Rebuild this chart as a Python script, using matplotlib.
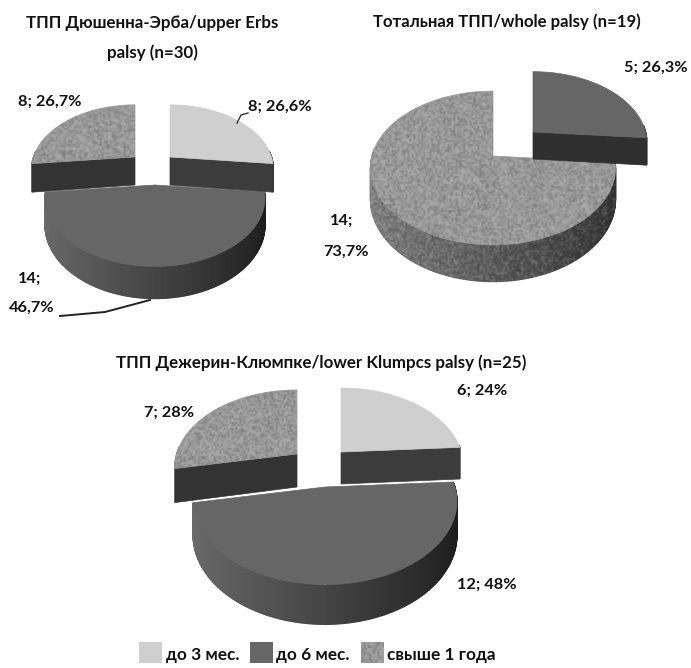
import numpy as np
import matplotlib
matplotlib.use("Agg")
import matplotlib.pyplot as plt
from matplotlib.patches import Polygon, Rectangle

# Cases per recovery period
upper_values = [8, 14, 8]
whole_values = [0, 5, 14]
lower_values = [6, 12, 7]

periods = ["до 3 мес.", "до 6 мес.", "свыше 1 года"]
upper_title = ["ТПП Дюшенна-Эрба/upper Erbs", "palsy (n=30)"]
whole_title = ["Тотальная ТПП/whole palsy (n=19)"]
lower_title = ["ТПП Дежерин-Клюмпке/lower Klumpcs palsy (n=25)"]

FONT = ["Lato", "Open Sans", "DejaVu Sans"]
INK = "#111111"
TOP = ["#cfcfcf", "#666666", "#9a9a9a"]
EDGE_DARK = ["#3c3c3c", "#2f2f2f", "#333333"]
SIDE_L = [0.40, 0.42, 0.52]   # rim brightness at the left
SIDE_R = [0.16, 0.11, 0.18]   # rim brightness at the right

fig = plt.figure(figsize=(6.91, 6.68), dpi=100, facecolor="white")
ax = fig.add_axes([0, 0, 1, 1])
layer = {"z": 2}


def next_z():
    layer["z"] += 1
    return layer["z"]


def grain_layer():
    """Deterministic speckle used as the fill texture of the third category."""
    yy, xx = np.mgrid[0:334, 0:346]
    h = np.sin(xx * 12.9898 + yy * 78.233) * 43758.5453
    n = (h - np.floor(h)) - 0.5
    rgba = np.zeros(n.shape + (4,))
    rgba[..., :3] = (n[..., None] > 0).astype(float)
    rgba[..., 3] = np.abs(n) * 0.36
    return rgba


GRAIN = grain_layer()


def add_grain(points):
    clip = Polygon(points, closed=True, transform=ax.transData)
    im = ax.imshow(GRAIN, extent=(0, 691, 668, 0), interpolation="bilinear",
                   aspect="auto", zorder=next_z())
    im.set_clip_path(clip)


def place(t, apex, rx, ry, k):
    """Project a point on the unit disc rim (clockwise angle t from the top)."""
    u, v = np.sin(t), np.cos(t)
    w = 1 + k * v
    return apex[0] + rx * u / w, apex[1] - ry * v / w


def draw_slice(t0, t1, cat, apex, rx, ry, k, depth):
    ts = np.linspace(t0, t1, 181)
    xs, ys = place(ts, apex, rx, ry, k)
    drops = depth / (1 + k * np.cos(ts))

    # outer wall, shaded from left to right
    z = next_z()
    for i in range(len(ts) - 1):
        mid = 0.5 * (ts[i] + ts[i + 1])
        if np.cos(mid) > 0.1:
            continue
        f = np.clip((1 - np.sin(mid)) / 2, 0, 1)
        g = SIDE_R[cat] + (SIDE_L[cat] - SIDE_R[cat]) * f
        quad = [(xs[i], ys[i]), (xs[i + 1], ys[i + 1]),
                (xs[i + 1], ys[i + 1] + drops[i + 1]), (xs[i], ys[i] + drops[i])]
        ax.add_patch(Polygon(quad, closed=True, fc=(g, g, g), ec=(g, g, g), lw=0.9, zorder=z))
    if cat == 2:
        mask = np.cos(ts) <= 0.1
        outline = list(zip(xs[mask], ys[mask])) + list(zip(xs[mask][::-1], (ys + drops)[mask][::-1]))
        add_grain(outline)

    # radial cut faces that turn towards the viewer
    z = next_z()
    for t, show in ((t0, np.sin(t0) < -0.01), (t1, np.sin(t1) > 0.01)):
        if show:
            x, y = place(t, apex, rx, ry, k)
            d = depth / (1 + k * np.cos(t))
            face = [apex, (x, y), (x, y + d), (apex[0], apex[1] + depth)]
            ax.add_patch(Polygon(face, closed=True, fc=EDGE_DARK[cat], ec=EDGE_DARK[cat],
                                 lw=0.5, zorder=z))

    # top surface
    top = [apex] + list(zip(xs, ys))
    ax.add_patch(Polygon(top, closed=True, fc=TOP[cat], ec=TOP[cat], lw=0.5, zorder=next_z()))
    if cat == 2:
        add_grain(top)


def draw_pie(values, layout, rx, ry, k, order):
    total = sum(values)
    edges = np.concatenate([[0], np.cumsum(values)]) / total * 2 * np.pi
    for cat in order:
        if values[cat] == 0:
            continue
        apex, scale, depth = layout[cat]
        draw_slice(edges[cat], edges[cat + 1], cat, apex, rx * scale, ry * scale, k, depth)


draw_pie(upper_values,
         {0: ((170, 157), 0.94, 28), 1: ((155, 185), 1.0, 26), 2: ((135, 157), 0.94, 28)},
         rx=108, ry=66, k=0.19, order=[1, 0, 2])
draw_pie(whole_values,
         {1: ((533, 132), 0.93, 27), 2: ((493, 156), 1.0, 31)},
         rx=121, ry=75, k=0.156, order=[2, 1])
draw_pie(lower_values,
         {0: ((341, 452), 0.925, 32), 1: ((325, 487), 1.0, 33), 2: ((297, 454), 0.925, 33)},
         rx=130, ry=81, k=0.17, order=[1, 0, 2])

# titles
text_kw = dict(family=FONT, weight="bold", color=INK, ha="center", va="center", zorder=100)
for line, y in zip(upper_title, (23, 53)):
    ax.text(152, y, line, fontsize=12.2, **text_kw)
ax.text(507, 22, whole_title[0], fontsize=12.1, **text_kw)
ax.text(321, 363, lower_title[0], fontsize=12.2, **text_kw)

# slice labels
labels = [("8; 26,6%", 280, 107), ("8; 26,7%", 50, 102), ("14;", 30, 279), ("46,7%", 32, 308),
          ("5; 26,3%", 656, 68), ("14;", 342, 221), ("73,7%", 346, 252),
          ("6; 24%", 482, 391), ("7; 28%", 169, 413), ("12; 48%", 487, 585)]
for s, x, y in labels:
    ax.text(x, y, s, fontsize=11.8, **text_kw)

# leader lines
ax.plot([237, 241, 248], [123, 115, 113], color="#333333", lw=1, zorder=99)
ax.plot([60, 105, 150], [316, 312, 300], color="#222222", lw=1.4, zorder=99)

# legend row
swatches = [139, 250, 361]
label_x = [203, 313, 441]
for cat, (sx, lx, name) in enumerate(zip(swatches, label_x, periods)):
    ax.add_patch(Rectangle((sx, 642), 23, 21, fc=TOP[cat], ec="none", zorder=next_z()))
    if cat == 2:
        add_grain([(sx, 642), (sx + 23, 642), (sx + 23, 663), (sx, 663)])
    ax.text(lx, 655, name, fontsize=12.4, **text_kw)

ax.set_xlim(0, 691)
ax.set_ylim(668, 0)
ax.axis("off")
fig.savefig("out.png", dpi=100, facecolor="white")
